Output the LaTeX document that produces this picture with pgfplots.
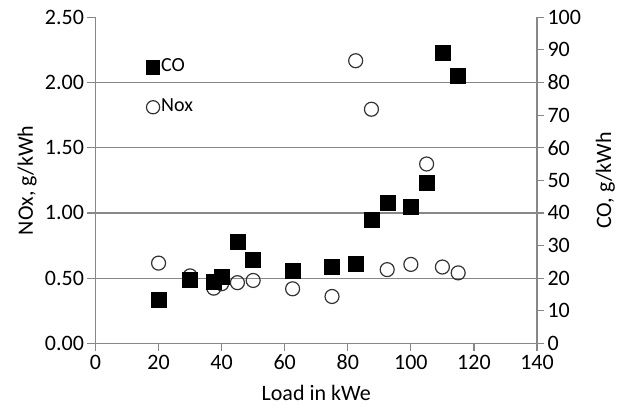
\documentclass[border=0pt]{standalone}
\usepackage{fontspec}
\setmainfont{Carlito}
\usepackage{pgfplots}
\pgfplotsset{compat=1.18}
\definecolor{axgray}{RGB}{135,135,135}
\begin{document}
\begin{tikzpicture}[font=\fontsize{22}{26}\selectfont]
\path[use as bounding box] (-95.5pt,-61.7pt) rectangle (532.5pt,343.3pt);
\pgfplotsset{
  common/.style={
    scale only axis, width=441.5pt, height=326pt,
    at={(0pt,0pt)}, anchor=south west,
    xmin=0, xmax=140,
    /pgf/number format/assume math mode=true,
    tick align=outside,
    tick style={axgray, line width=1.2pt},
    axis line style={axgray, line width=1.2pt},
    clip=false,
  }
}
\begin{axis}[common,
  ymin=0, ymax=2.5,
  axis x line*=bottom, axis y line*=left,
  xtick={0,20,...,140},
  ytick={0,0.5,1,1.5,2,2.5},
  major tick length=8pt,
  yticklabel style={/pgf/number format/.cd, fixed, fixed zerofill, precision=2},
  extra y ticks={0.5,1,1.5,2},
  extra y tick labels={},
  extra y tick style={grid=major, major tick length=0pt},
  grid style={axgray, line width=1.2pt},
  xlabel={Load in kWe},
  ylabel={NOx, g/kWh},
  xlabel style={at={(axis description cs:0.5,0)}, anchor=base, inner sep=0pt, yshift=-57pt},
  ylabel style={at={(axis description cs:-0.1416,0.5)}, anchor=base},
]
\addplot[only marks, mark=o, mark size=7pt, mark options={draw=black!80, line width=1.2pt, fill=white}] coordinates {
(20,0.615) (30,0.517) (37.5,0.423) (40,0.457) (45,0.465) (50,0.482)
(62.5,0.418) (75,0.359) (82.5,2.167) (87.5,1.795) (92.5,0.565)
(100,0.605) (105,1.375) (110,0.585) (115,0.54)
};
\end{axis}
\begin{axis}[common,
  ymin=0, ymax=100,
  axis x line=none, axis y line*=right,
  ytick={0,10,...,100},
  major tick length=7pt,
  ylabel={CO, g/kWh},
  ylabel style={at={(axis description cs:1.1676,0.5)}, anchor=base},
  legend style={draw=none, fill=none, at={(axis description cs:0.115,0.878)}, anchor=north west,
    inner sep=0pt, row sep=20pt, column sep=0pt,
    nodes={inner sep=1.5pt, text height=13pt, text depth=4pt},
    font=\fontsize{20}{24}\selectfont},
  legend cell align=left,
  legend image code/.code={\draw[#1, mark size=6.6pt] plot coordinates {(0pt,0pt)};},
]
\addplot[only marks, mark=square*, mark size=7.5pt, mark options={fill=black, draw=black}] coordinates {
(20,13.4) (30,19.6) (37.5,18.8) (40,20.3) (45,31.3) (50,25.5)
(62.5,22.2) (75,23.4) (82.5,24.3) (87.5,37.8) (92.5,43.0)
(100,41.9) (105,49.4) (110,89.2) (115,82.0)
};
\addlegendentry{CO}
\addlegendimage{only marks, mark=o, mark options={draw=black!80, line width=1.2pt}}
\addlegendentry{Nox}
\end{axis}
\end{tikzpicture}
\end{document}
